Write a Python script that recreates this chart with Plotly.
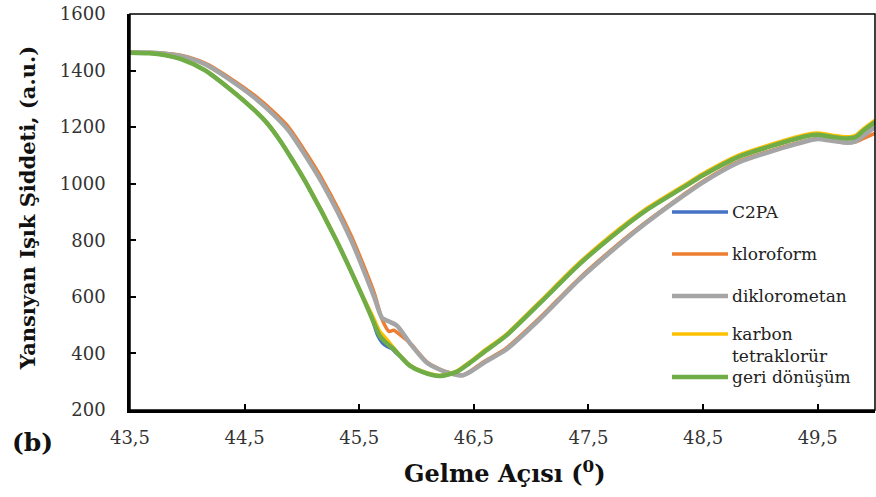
import plotly.graph_objects as go

# ---------------- data ----------------
x_ticks = [43.5, 44.5, 45.5, 46.5, 47.5, 48.5, 49.5]
x_tick_labels = ["43,5", "44,5", "45,5", "46,5", "47,5", "48,5", "49,5"]
y_ticks = [200, 400, 600, 800, 1000, 1200, 1400, 1600]

series_names = ["C2PA", "kloroform", "diklorometan", "karbon<br>tetraklorür", "geri dönüşüm"]
series_colors = ["#4472C4", "#ED7D31", "#A5A5A5", "#FFC000", "#70AD47"]

x_geri = [43.5, 43.67, 43.8, 43.94, 44.15, 44.37, 44.59, 44.7, 44.81, 44.92, 45.04, 45.3,
          45.53, 45.61, 45.68, 45.75, 45.8, 45.87, 45.94, 46.05, 46.2, 46.35, 46.46, 46.6,
          46.78, 47.07, 47.42, 47.77, 48.0, 48.32, 48.5, 48.81, 49.07, 49.25, 49.4, 49.5,
          49.62, 49.75, 49.83, 49.9, 50.0]
y_geri = [1463, 1461, 1455, 1441, 1402, 1335, 1258, 1212, 1152, 1082, 1000, 800,
          600, 525, 462, 432, 415, 385, 357, 335, 320, 335, 365, 408,
          462, 575, 715, 835, 905, 985, 1030, 1095, 1130, 1152, 1168, 1173,
          1166, 1160, 1165, 1188, 1218]

x_c2pa = [43.5, 43.67, 43.8, 43.94, 44.15, 44.37, 44.59, 44.7, 44.81, 44.92, 45.04, 45.3,
          45.53, 45.61, 45.66, 45.7, 45.74, 45.78, 45.82, 45.87, 45.94, 46.05, 46.2, 46.35,
          46.46, 46.6, 46.78, 47.07, 47.42, 47.77, 48.0, 48.32, 48.5, 48.81, 49.07, 49.25,
          49.4, 49.5, 49.62, 49.75, 49.83, 49.9, 50.0]
y_c2pa = [1463, 1461, 1455, 1441, 1402, 1335, 1258, 1212, 1152, 1082, 1000, 800,
          600, 525, 465, 438, 425, 418, 403, 385, 357, 335, 320, 335,
          365, 408, 462, 575, 715, 835, 905, 985, 1030, 1095, 1130, 1152,
          1168, 1173, 1166, 1160, 1165, 1188, 1215]

x_karbon = [43.5, 43.67, 43.8, 43.94, 44.15, 44.37, 44.59, 44.7, 44.81, 44.92, 45.04, 45.3,
            45.53, 45.62, 45.68, 45.73, 45.78, 45.82, 45.87, 45.94, 46.05, 46.2, 46.35,
            46.46, 46.6, 46.78, 47.07, 47.42, 47.77, 48.0, 48.32, 48.5, 48.81, 49.07,
            49.25, 49.4, 49.5, 49.62, 49.75, 49.83, 49.9, 50.0]
y_karbon = [1464, 1462, 1456, 1442, 1403, 1337, 1260, 1214, 1154, 1084, 1003, 803,
            604, 530, 478, 455, 430, 410, 387, 359, 337, 322, 338,
            369, 413, 467, 581, 721, 841, 911, 991, 1036, 1101, 1136,
            1158, 1174, 1179, 1172, 1166, 1171, 1195, 1225]

x_diklor = [43.5, 43.67, 43.8, 43.94, 44.15, 44.37, 44.59, 44.75, 44.88, 45.03, 45.18,
            45.43, 45.63, 45.7, 45.76, 45.83, 45.95, 46.09, 46.2, 46.29, 46.4, 46.49,
            46.6, 46.78, 47.07, 47.42, 47.77, 48.0, 48.32, 48.5, 48.81, 49.07, 49.25,
            49.4, 49.5, 49.62, 49.75, 49.83, 49.9, 50.0]
y_diklor = [1465, 1464, 1460, 1452, 1423, 1368, 1303, 1245, 1190, 1100, 1000,
            800, 600, 525, 513, 498, 432, 367, 343, 330, 322, 340,
            370, 413, 519, 661, 785, 860, 955, 1005, 1075, 1111, 1133,
            1150, 1158, 1152, 1145, 1150, 1170, 1200]

x_kloro = [43.5, 43.67, 43.8, 43.94, 44.15, 44.37, 44.59, 44.75, 44.88, 45.03, 45.18,
           45.43, 45.63, 45.7, 45.76, 45.8, 45.86, 45.95, 46.09, 46.2, 46.29, 46.4, 46.49,
           46.6, 46.78, 47.07, 47.42, 47.77, 48.0, 48.32, 48.5, 48.81, 49.07, 49.25,
           49.4, 49.5, 49.62, 49.75, 49.83, 49.9, 50.0]
y_kloro = [1465, 1464, 1461, 1454, 1427, 1374, 1311, 1255, 1202, 1113, 1014,
           816, 615, 520, 478, 482, 465, 434, 370, 345, 332, 323, 343,
           374, 418, 524, 666, 790, 864, 959, 1009, 1079, 1114, 1136,
           1152, 1160, 1153, 1145, 1148, 1160, 1178]

x_series = [x_c2pa, x_kloro, x_diklor, x_karbon, x_geri]
y_series = [y_c2pa, y_kloro, y_diklor, y_karbon, y_geri]
line_widths = [3.5, 3.5, 4.5, 3.5, 4.5]

# ---------------- figure ----------------
FONT = "DejaVu Serif"
fig = go.Figure()
for name, color, xs, ys, w in zip(series_names, series_colors, x_series, y_series, line_widths):
    fig.add_trace(go.Scatter(x=xs, y=ys, mode="lines", name=name.replace("<br>", " "),
                             line=dict(color=color, width=w, shape="spline", smoothing=0.7),
                             showlegend=False))

axis_common = dict(showline=True, linecolor="black", linewidth=2.5, ticks="inside",
                   ticklen=6, tickwidth=2, tickcolor="black", showgrid=False,
                   zeroline=False, tickfont=dict(family=FONT, size=18, color="#333333"))

fig.update_layout(
    width=876, height=497,
    margin=dict(l=130, r=1, t=14, b=87),
    paper_bgcolor="white", plot_bgcolor="white",
    xaxis=dict(range=[43.5, 50], tickmode="array", tickvals=x_ticks, ticktext=x_tick_labels,
               ticklabelstandoff=10, **axis_common),
    yaxis=dict(range=[200, 1600], tickmode="array", tickvals=y_ticks,
               ticklabelstandoff=18, **axis_common),
    font=dict(family=FONT),
)

# plot border (top / right)
fig.add_shape(type="rect", xref="paper", yref="paper", x0=0, x1=1, y0=0, y1=1,
              line=dict(color="black", width=1.5), layer="above")

# axis titles and panel label
fig.add_annotation(text="<b>Yansıyan Işık Şiddeti, (a.u.)</b>", xref="paper", yref="paper",
                   x=-0.138, y=0.51, textangle=-90, showarrow=False, xanchor="center",
                   yanchor="middle", font=dict(family=FONT, size=21, color="#111111"))
fig.add_annotation(text="<b>Gelme Açısı (<sup>0</sup>)</b>", xref="paper", yref="paper",
                   x=0.503, y=-0.157, showarrow=False, xanchor="center", yanchor="middle",
                   font=dict(family=FONT, size=24, color="#111111"))
fig.add_annotation(text="<b>(b)</b>", xref="paper", yref="paper", x=-0.1315, y=-0.081,
                   showarrow=False, xanchor="center", yanchor="middle",
                   font=dict(family=FONT, size=25, color="#111111"))

# legend (drawn inside the plot like the original)
leg_y = [0.5, 0.394, 0.288, 0.192, 0.0833]
leg_text_y = [0.5, 0.394, 0.288, 0.165, 0.0833]
for name, color, ly, ty, w in zip(series_names, series_colors, leg_y, leg_text_y, line_widths):
    fig.add_shape(type="line", xref="paper", yref="paper", x0=0.7275, x1=0.8027, y0=ly, y1=ly,
                  line=dict(color=color, width=w))
    fig.add_annotation(text=name, xref="paper", yref="paper", x=0.8054, y=ty, showarrow=False,
                       xanchor="left", yanchor="middle", align="left",
                       font=dict(family=FONT, size=17, color="#222222"))

fig.write_html("out.html")
